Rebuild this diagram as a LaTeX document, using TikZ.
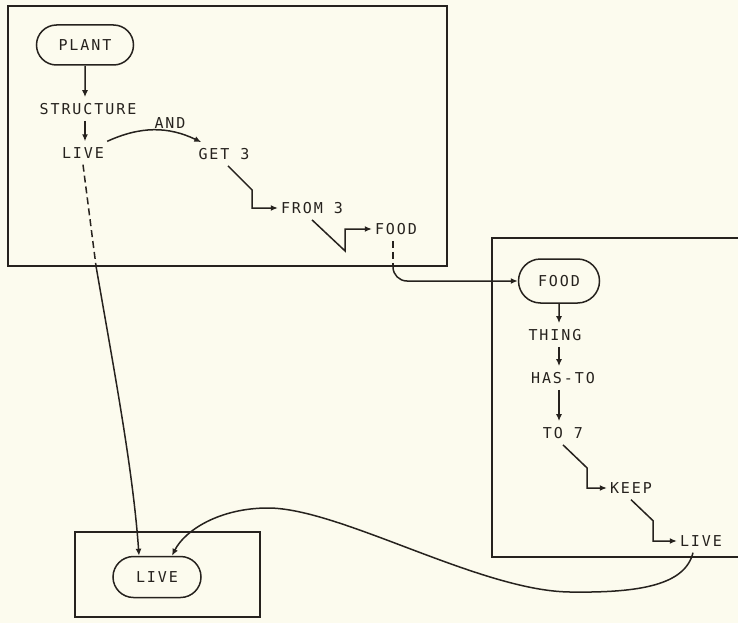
\documentclass[tikz,border=0pt]{standalone}
\usepackage{fontspec}
\newfontfamily\labelfont[LetterSpace=13]{DejaVu Sans Mono}
\usetikzlibrary{shapes.misc,arrows.meta}
\definecolor{paper}{RGB}{252,251,238}
\definecolor{ink}{RGB}{38,34,30}

\begin{document}
\begin{tikzpicture}[x=1pt,y=-1pt,
  lbl/.style={inner xsep=3pt,inner ysep=6pt,text=ink,font={\labelfont\fontsize{15}{18}\selectfont}},
  term/.style={lbl,draw=ink,line width=1.5pt,rounded rectangle},
  arr/.style={draw=ink,line width=1.5pt,-{Latex[length=7pt,width=6pt]}},
  link/.style={draw=ink,line width=1.5pt,dash pattern=on 7pt off 4pt},
  frame/.style={draw=ink,line width=1.7pt}]

\fill[paper] (0,0) rectangle (738,623);
\useasboundingbox (0,0) rectangle (738,623);

\draw[frame] (8,6) rectangle (447,266);
\draw[frame] (738,238) -- (492,238) -- (492,557) -- (738,557);
\draw[frame] (75,532) rectangle (260,617);

\node[term,minimum width=103pt,minimum height=40pt] (plant) at (85,45) {PLANT};
\node[lbl] (structure) at (88,109) {STRUCTURE};
\node[lbl] (andlbl) at (170,123) {AND};
\node[lbl] (live) at (83,153) {LIVE};
\node[lbl] (get3) at (224,154) {GET 3};
\node[lbl] (from3) at (312,208) {FROM 3};
\node[lbl] (food) at (396,229) {FOOD};

\node[term,minimum width=87pt,minimum height=44pt] (food2) at (559,281) {FOOD};
\node[lbl] (thing) at (555,335) {THING};
\node[lbl] (hasto) at (563,378) {HAS-TO};
\node[lbl] (to7) at (563,433) {TO 7};
\node[lbl] (keep) at (631,488) {KEEP};
\node[lbl] (liveright) at (701,541) {LIVE};

\node[term,minimum width=94pt,minimum height=41pt] (livebox) at (157,577) {LIVE};

\coordinate (liveexit) at (96,266);
\coordinate (foodexit) at (393,266);

\draw[arr] (plant) -- (plant |- structure.north);
\draw[arr] (structure.south -| plant) -- (live.north -| plant);
\draw[arr] (live.north east) to[bend left=25] ([xshift=6pt]get3.north west);
\draw[arr] ([xshift=4pt]get3.south) -- ++(24,24) |- (from3.west);
\draw[arr] (from3.south) -- ++(33,31) |- (food.west);

\draw[link] (food.south -| foodexit) -- (foodexit);
\draw[arr,rounded corners=14pt] (foodexit) |- (food2.west);

\draw[arr] (food2) -- (food2 |- thing.north);
\draw[arr] (thing.south -| food2) -- (hasto.north -| food2);
\draw[arr] (hasto.south -| food2) -- (to7.north -| food2);
\draw[arr] (to7.south) -- ++(24,23) |- (keep.west);
\draw[arr] (keep.south) -- ++(22,21) |- (liveright.west);

\draw[link] (live.south) -- (liveexit);
\draw[arr] (liveexit) .. controls (114,370) and (133,470) .. ([xshift=-18pt]livebox.north);
\draw[arr] ([xshift=-8pt]liveright.south) .. controls (685,585) and (640,593) .. (570,592)
  .. controls (480,591) and (340,508) .. (268,508)
  .. controls (220,508) and (185,530) .. ([xshift=15pt]livebox.north);
\end{tikzpicture}
\end{document}
